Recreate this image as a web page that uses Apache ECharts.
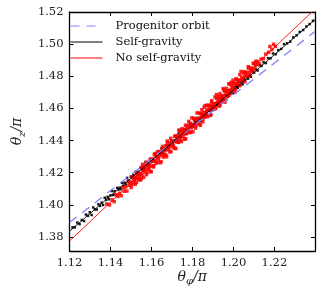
<!DOCTYPE html>
<html>
<head>
<meta charset="utf-8">
<script src="https://cdn.jsdelivr.net/npm/echarts@6/dist/echarts.min.js"></script>
<style>html,body{margin:0;padding:0;background:#fff}#c{width:325px;height:297px}</style>
</head>
<body>
<div id="c"></div>
<script>
const xTicks = [1.12, 1.14, 1.16, 1.18, 1.20, 1.22];
const yTicks = [1.38, 1.40, 1.42, 1.44, 1.46, 1.48, 1.50, 1.52];
const xRange = [1.12, 1.2398];
const yRange = [1.3713, 1.52];

const progenitorLine = [[1.12, 1.3890], [1.2398, 1.5079]];
const selfGravLine = [[1.12, 1.3836], [1.2398, 1.5152]];
const noSelfGravLine = [[1.12, 1.3775], [1.2398, 1.5218]];

const selfGravPoints = [
[1.1215,1.3860],[1.1226,1.3860],[1.1238,1.3890],[1.1249,1.3880],[1.1260,1.3906],[1.1271,1.3899],[1.1280,1.3940],[1.1290,1.3932],
[1.1299,1.3954],[1.1308,1.3937],[1.1316,1.3984],[1.1324,1.3972],[1.1333,1.3971],[1.1341,1.4004],[1.1349,1.3994],[1.1357,1.4014],
[1.1364,1.3999],[1.1372,1.4044],[1.1379,1.4031],[1.1386,1.4050],[1.1393,1.4035],[1.1400,1.4059],[1.1407,1.4086],[1.1413,1.4061],
[1.1420,1.4085],[1.1426,1.4064],[1.1433,1.4106],[1.1439,1.4095],[1.1445,1.4106],[1.1451,1.4097],[1.1457,1.4137],[1.1463,1.4118],
[1.1469,1.4138],[1.1475,1.4126],[1.1481,1.4168],[1.1487,1.4152],[1.1493,1.4139],[1.1499,1.4176],[1.1505,1.4168],[1.1511,1.4186],
[1.1517,1.4171],[1.1523,1.4207],[1.1529,1.4190],[1.1535,1.4206],[1.1541,1.4190],[1.1547,1.4231],[1.1553,1.4219],[1.1559,1.4240],
[1.1565,1.4226],[1.1571,1.4264],[1.1577,1.4248],[1.1583,1.4262],[1.1589,1.4248],[1.1595,1.4282],[1.1601,1.4271],[1.1607,1.4287],
[1.1613,1.4272],[1.1619,1.4314],[1.1625,1.4303],[1.1631,1.4300],[1.1637,1.4327],[1.1643,1.4319],[1.1649,1.4351],[1.1655,1.4321],
[1.1661,1.4349],[1.1667,1.4341],[1.1673,1.4370],[1.1679,1.4343],[1.1685,1.4371],[1.1691,1.4369],[1.1697,1.4400],[1.1703,1.4377],
[1.1709,1.4400],[1.1715,1.4399],[1.1721,1.4420],[1.1727,1.4399],[1.1733,1.4444],[1.1739,1.4429],[1.1745,1.4422],[1.1751,1.4450],
[1.1757,1.4443],[1.1763,1.4470],[1.1769,1.4443],[1.1775,1.4471],[1.1781,1.4467],[1.1787,1.4501],[1.1793,1.4486],[1.1799,1.4502],
[1.1805,1.4487],[1.1811,1.4520],[1.1817,1.4510],[1.1823,1.4541],[1.1829,1.4517],[1.1835,1.4538],[1.1841,1.4523],[1.1847,1.4564],
[1.1853,1.4554],[1.1859,1.4552],[1.1865,1.4577],[1.1871,1.4559],[1.1877,1.4587],[1.1883,1.4584],[1.1889,1.4615],[1.1895,1.4588],
[1.1901,1.4609],[1.1907,1.4594],[1.1913,1.4633],[1.1919,1.4621],[1.1925,1.4642],[1.1931,1.4630],[1.1937,1.4664],[1.1943,1.4649],
[1.1949,1.4665],[1.1955,1.4650],[1.1961,1.4685],[1.1967,1.4680],[1.1973,1.4673],[1.1979,1.4712],[1.1985,1.4692],[1.1991,1.4709],
[1.1997,1.4695],[1.2003,1.4733],[1.2009,1.4724],[1.2015,1.4740],[1.2021,1.4728],[1.2027,1.4766],[1.2033,1.4747],[1.2039,1.4765],
[1.2045,1.4750],[1.2051,1.4783],[1.2057,1.4776],[1.2064,1.4802],[1.2071,1.4785],[1.2078,1.4806],[1.2085,1.4797],[1.2093,1.4836],
[1.2101,1.4823],[1.2109,1.4843],[1.2118,1.4836],[1.2127,1.4869],[1.2137,1.4865],[1.2147,1.4887],[1.2158,1.4882],[1.2169,1.4913],
[1.2181,1.4912],[1.2193,1.4942],[1.2206,1.4937],[1.2219,1.4963],[1.2233,1.4970],[1.2247,1.5000],[1.2262,1.5005],[1.2277,1.5016],
[1.2292,1.5042],[1.2308,1.5055],[1.2324,1.5076],[1.2340,1.5088],[1.2356,1.5110],[1.2372,1.5125],[1.2388,1.5145]
];

const noSelfGravPoints = [
[1.1382,1.4006],[1.1395,1.4000],[1.1408,1.4031],[1.1418,1.4020],[1.1427,1.4063],[1.1436,1.4053],[1.1444,1.4072],[1.1452,1.4057],
[1.1460,1.4107],[1.1467,1.4085],[1.1474,1.4112],[1.1480,1.4086],[1.1486,1.4144],[1.1491,1.4122],[1.1496,1.4143],[1.1501,1.4108],
[1.1506,1.4172],[1.1511,1.4135],[1.1516,1.4158],[1.1521,1.4128],[1.1526,1.4199],[1.1530,1.4164],[1.1534,1.4193],[1.1538,1.4158],
[1.1542,1.4192],[1.1546,1.4154],[1.1550,1.4232],[1.1554,1.4184],[1.1558,1.4216],[1.1562,1.4171],[1.1566,1.4239],[1.1570,1.4216],
[1.1574,1.4266],[1.1578,1.4201],[1.1582,1.4253],[1.1586,1.4229],[1.1590,1.4248],[1.1594,1.4207],[1.1598,1.4287],[1.1602,1.4240],
[1.1606,1.4276],[1.1610,1.4236],[1.1614,1.4313],[1.1618,1.4277],[1.1622,1.4303],[1.1626,1.4262],[1.1630,1.4299],[1.1634,1.4284],
[1.1638,1.4332],[1.1642,1.4262],[1.1646,1.4327],[1.1650,1.4309],[1.1654,1.4364],[1.1658,1.4297],[1.1662,1.4341],[1.1666,1.4315],
[1.1670,1.4367],[1.1674,1.4299],[1.1678,1.4387],[1.1682,1.4343],[1.1686,1.4361],[1.1690,1.4329],[1.1694,1.4414],[1.1698,1.4369],
[1.1702,1.4397],[1.1706,1.4357],[1.1710,1.4393],[1.1714,1.4353],[1.1718,1.4429],[1.1722,1.4394],[1.1726,1.4431],[1.1730,1.4390],
[1.1734,1.4464],[1.1738,1.4420],[1.1742,1.4442],[1.1746,1.4394],[1.1750,1.4465],[1.1754,1.4426],[1.1758,1.4454],[1.1762,1.4408],
[1.1766,1.4495],[1.1770,1.4442],[1.1774,1.4478],[1.1778,1.4464],[1.1782,1.4519],[1.1786,1.4449],[1.1790,1.4507],[1.1794,1.4479],
[1.1798,1.4498],[1.1802,1.4454],[1.1806,1.4539],[1.1810,1.4501],[1.1814,1.4534],[1.1818,1.4493],[1.1822,1.4572],[1.1826,1.4511],
[1.1830,1.4539],[1.1834,1.4504],[1.1838,1.4569],[1.1842,1.4544],[1.1846,1.4592],[1.1850,1.4516],[1.1854,1.4576],[1.1858,1.4546],
[1.1862,1.4617],[1.1866,1.4566],[1.1870,1.4590],[1.1874,1.4549],[1.1878,1.4621],[1.1882,1.4592],[1.1886,1.4617],[1.1890,1.4561],
[1.1894,1.4648],[1.1898,1.4592],[1.1902,1.4623],[1.1906,1.4612],[1.1910,1.4671],[1.1914,1.4604],[1.1918,1.4663],[1.1922,1.4637],
[1.1926,1.4660],[1.1930,1.4614],[1.1934,1.4692],[1.1938,1.4645],[1.1942,1.4675],[1.1946,1.4645],[1.1950,1.4724],[1.1954,1.4681],
[1.1958,1.4706],[1.1962,1.4657],[1.1966,1.4725],[1.1970,1.4690],[1.1974,1.4711],[1.1978,1.4682],[1.1982,1.4753],[1.1986,1.4715],
[1.1990,1.4742],[1.1994,1.4707],[1.1998,1.4776],[1.2002,1.4725],[1.2006,1.4755],[1.2010,1.4718],[1.2014,1.4782],[1.2018,1.4756],
[1.2022,1.4777],[1.2026,1.4743],[1.2031,1.4810],[1.2036,1.4772],[1.2041,1.4793],[1.2046,1.4771],[1.2051,1.4828],[1.2056,1.4800],
[1.2061,1.4826],[1.2067,1.4800],[1.2073,1.4851],[1.2079,1.4825],[1.2086,1.4852],[1.2093,1.4834],[1.2100,1.4879],[1.2108,1.4866],
[1.2116,1.4892],[1.2125,1.4878],[1.2135,1.4907],[1.2146,1.4910],[1.2158,1.4938],[1.2172,1.4950],[1.2188,1.4967],[1.2205,1.4986],
[1.2178,1.4985],[1.2196,1.4999],
[1.1503,1.4125],[1.1509,1.4170],[1.1515,1.4154],[1.1521,1.4173],[1.1527,1.4141],[1.1533,1.4193],[1.1539,1.4175],[1.1545,1.4195],
[1.1551,1.4164],[1.1557,1.4252],[1.1563,1.4204],[1.1569,1.4242],[1.1575,1.4188],[1.1581,1.4245],[1.1587,1.4222],[1.1593,1.4281],
[1.1599,1.4206],[1.1605,1.4272],[1.1611,1.4244],[1.1617,1.4319],[1.1623,1.4260],[1.1629,1.4330],[1.1635,1.4298],[1.1641,1.4325],
[1.1647,1.4268],[1.1653,1.4350],[1.1659,1.4315],[1.1665,1.4341],[1.1671,1.4308],[1.1677,1.4397],[1.1683,1.4349],[1.1689,1.4386],
[1.1695,1.4332],[1.1701,1.4390],[1.1707,1.4367],[1.1713,1.4426],[1.1719,1.4350],[1.1725,1.4416],[1.1731,1.4389],[1.1737,1.4464],
[1.1743,1.4404],[1.1749,1.4474],[1.1755,1.4443],[1.1761,1.4470],[1.1767,1.4412],[1.1773,1.4494],[1.1779,1.4460],[1.1785,1.4486],
[1.1791,1.4453],[1.1797,1.4541],[1.1803,1.4493],[1.1809,1.4531],[1.1815,1.4477],[1.1821,1.4534],[1.1827,1.4511],[1.1833,1.4571],
[1.1839,1.4495],[1.1845,1.4561],[1.1851,1.4533],[1.1857,1.4608],[1.1863,1.4549],[1.1869,1.4619],[1.1875,1.4587],[1.1881,1.4614],
[1.1887,1.4557],[1.1893,1.4639],[1.1899,1.4604],[1.1905,1.4630],[1.1911,1.4598],[1.1917,1.4686],[1.1923,1.4638],[1.1929,1.4675],
[1.1935,1.4621],[1.1941,1.4679],[1.1947,1.4656],[1.1953,1.4715],[1.1959,1.4639],[1.1965,1.4706],[1.1971,1.4678],[1.1977,1.4753],
[1.1983,1.4693],[1.1989,1.4763],[1.1995,1.4732],[1.2001,1.4759],[1.2007,1.4701],[1.2013,1.4783],[1.2019,1.4749],[1.2025,1.4775],
[1.2031,1.4742],[1.2037,1.4830],[1.2043,1.4783],[1.2049,1.4820],[1.2055,1.4766],[1.2061,1.4823],[1.2067,1.4800],[1.2073,1.4860],
[1.2079,1.4804],[1.2085,1.4846],[1.2091,1.4832],[1.2097,1.4881],[1.2103,1.4848],[1.2109,1.4893],[1.2115,1.4876]
];

const legendNames = ['Progenitor orbit', 'Self-gravity', 'No self-gravity'];

const serif = 'DejaVu Serif';
const labelStyle = { fontFamily: serif, fontSize: 11.5, color: '#222' };
const frameLine = { show: true, onZero: false, lineStyle: { color: '#000', width: 1.3 } };
const fmt2 = v => v.toFixed(2);
const nameRich = {
  a: { fontFamily: serif, fontStyle: 'italic', fontSize: 14, color: '#222', lineHeight: 18 },
  s: { fontFamily: serif, fontStyle: 'italic', fontSize: 10, color: '#222', padding: [9, 0, 0, 0], lineHeight: 18 }
};

const chart = echarts.init(document.getElementById('c'), null, { renderer: 'canvas' });
chart.setOption({
  animation: false,
  backgroundColor: '#fff',
  grid: { left: 58, right: 10, top: 12, bottom: 46, containLabel: false },
  legend: {
    data: legendNames,
    left: 70, top: 20, orient: 'vertical', padding: 0,
    itemWidth: 32, itemHeight: 12, itemGap: 4,
    itemStyle: { opacity: 0 },
    lineStyle: { width: 1 },
    textStyle: { fontFamily: serif, fontSize: 11.5, color: '#111', padding: [0, 0, 0, 8] }
  },
  xAxis: [
    { type: 'value', min: xRange[0], max: xRange[1], position: 'bottom',
      name: '{a|θ}{s|φ}{a|/π}', nameLocation: 'middle', nameGap: 17, nameMoveOverlap: false,
      nameTextStyle: { rich: nameRich },
      axisLine: frameLine, splitLine: { show: false },
      axisTick: { inside: true, length: 4, customValues: xTicks, lineStyle: { color: '#000' } },
      axisLabel: { customValues: xTicks, formatter: fmt2, margin: 6, ...labelStyle } },
    { type: 'value', min: xRange[0], max: xRange[1], position: 'top',
      axisLine: frameLine, splitLine: { show: false },
      axisTick: { inside: true, length: 4, customValues: xTicks, lineStyle: { color: '#000' } },
      axisLabel: { show: false } }
  ],
  yAxis: [
    { type: 'value', min: yRange[0], max: yRange[1], position: 'left',
      name: '{a|θ}{s|z}{a|/π}', nameLocation: 'middle', nameGap: 41,
      nameTextStyle: { rich: nameRich },
      axisLine: frameLine, splitLine: { show: false },
      axisTick: { inside: true, length: 4, customValues: yTicks, lineStyle: { color: '#000' } },
      axisLabel: { customValues: yTicks, formatter: fmt2, margin: 6, ...labelStyle } },
    { type: 'value', min: yRange[0], max: yRange[1], position: 'right',
      axisLine: frameLine, splitLine: { show: false },
      axisTick: { inside: true, length: 4, customValues: yTicks, lineStyle: { color: '#000' } },
      axisLabel: { show: false } }
  ],
  series: [
    { name: 'sg-points', type: 'scatter', data: selfGravPoints, symbol: 'rect', symbolSize: 2.5,
      itemStyle: { color: '#000', opacity: 0.9 }, z: 2 },
    { name: 'nsg-points', type: 'scatter', data: noSelfGravPoints, symbol: 'rect', symbolSize: 3.5,
      itemStyle: { color: '#ff0000', opacity: 0.85 }, z: 3 },
    { name: legendNames[0], type: 'line', data: progenitorLine, symbol: 'none', showSymbol: false, z: 4,
      lineStyle: { color: '#8080ff', width: 1.3, type: [9, 7] }, itemStyle: { color: '#8080ff' } },
    { name: legendNames[1], type: 'line', data: selfGravLine, symbol: 'none', showSymbol: false, z: 5,
      lineStyle: { color: '#000', width: 0.9 }, itemStyle: { color: '#000' } },
    { name: legendNames[2], type: 'line', data: noSelfGravLine, symbol: 'none', showSymbol: false, z: 5,
      lineStyle: { color: '#ff0000', width: 0.9 }, itemStyle: { color: '#ff0000' } }
  ]
});
</script>
</body>
</html>
